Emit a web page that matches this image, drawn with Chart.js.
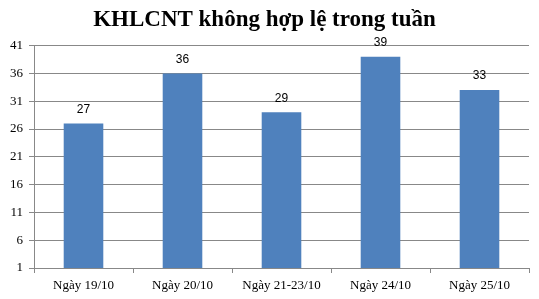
<!DOCTYPE html>
<html>
<head>
<meta charset="utf-8">
<script src="https://cdn.jsdelivr.net/npm/chart.js@4"></script>
<style>
  html, body { margin: 0; padding: 0; background: #fff; }
  #wrap { width: 539px; height: 299px; }
</style>
</head>
<body>
<div id="wrap"><canvas id="chart"></canvas></div>
<script>
const categories = ['Ngày 19/10', 'Ngày 20/10', 'Ngày 21-23/10', 'Ngày 24/10', 'Ngày 25/10'];
const counts = [27, 36, 29, 39, 33];
const yTicks = [1, 6, 11, 16, 21, 26, 31, 36, 41];

const barLabels = {
  id: 'barLabels',
  afterDatasetsDraw(chart) {
    const ctx = chart.ctx;
    const meta = chart.getDatasetMeta(0);
    ctx.save();
    ctx.font = '12px "Liberation Sans", Arial, sans-serif';
    ctx.fillStyle = '#000';
    ctx.textAlign = 'center';
    ctx.textBaseline = 'bottom';
    meta.data.forEach((bar, i) => {
      ctx.fillText(String(counts[i]), bar.x, bar.y - 8);
    });
    ctx.restore();
  }
};

new Chart(document.getElementById('chart').getContext('2d'), {
  type: 'bar',
  data: {
    labels: categories,
    datasets: [{
      data: counts,
      backgroundColor: '#4F81BD',
      borderWidth: 0,
      categoryPercentage: 1,
      barPercentage: 0.4
    }]
  },
  options: {
    responsive: true,
    maintainAspectRatio: false,
    animation: false,
    layout: { padding: { left: 0, right: 10, top: 0, bottom: 0 } },
    scales: {
      x: {
        grid: {
          offset: true,
          drawOnChartArea: false,
          drawTicks: true,
          tickLength: 5,
          color: '#888'
        },
        border: { color: '#888' },
        ticks: {
          color: '#000',
          padding: 5,
          font: { family: '"Liberation Serif", "Times New Roman", serif', size: 13 }
        },
        afterFit: (scale) => { scale.height = 31; }
      },
      y: {
        min: 1,
        max: 41,
        afterBuildTicks: (scale) => { scale.ticks = yTicks.map(v => ({ value: v })); },
        grid: {
          color: '#888',
          tickLength: 5
        },
        border: { color: '#888' },
        ticks: {
          color: '#000',
          padding: 6,
          font: { family: '"Liberation Serif", "Times New Roman", serif', size: 13 }
        },
        afterFit: (scale) => { scale.width = 34; }
      }
    },
    plugins: {
      legend: { display: false },
      tooltip: { enabled: false },
      title: {
        display: true,
        text: 'KHLCNT không hợp lệ trong tuần',
        color: '#000',
        font: { family: '"Liberation Serif", "Times New Roman", serif', size: 23, weight: 'bold' },
        padding: { top: 6, bottom: 12 }
      }
    }
  },
  plugins: [barLabels]
});
</script>
</body>
</html>
